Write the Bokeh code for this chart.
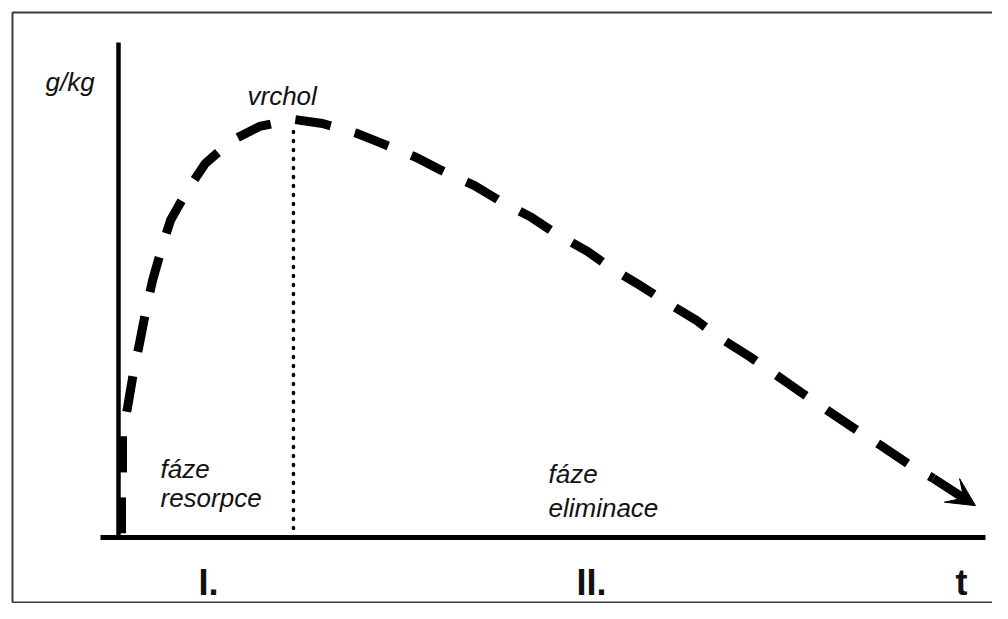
from bokeh.plotting import figure
from bokeh.models import Range1d, Arrow, VeeHead
from bokeh.core.properties import value
from bokeh.embed import file_html
from bokeh.resources import INLINE

# ---- data: blood alcohol curve ----
time_h = [0.035, 0.035, 0.046, 0.046, 0.104, 0.173, 0.242, 0.323, 0.392, 0.507,
          0.600, 0.807, 1.003, 1.303, 1.626, 2.018, 2.353, 2.757, 3.045, 3.437,
          3.725, 4.106, 4.394, 4.764, 5.040, 5.409, 5.675, 6.021, 6.309, 6.667,
          6.932, 7.278, 7.543, 7.889, 8.178, 8.524, 8.789, 9.135, 9.400, 9.885]
conc_gkg = [0.010, 0.093, 0.160, 0.248, 0.310, 0.394, 0.463, 0.549, 0.613, 0.697,
            0.757, 0.833, 0.893, 0.947, 0.981, 0.998, 0.988, 0.964, 0.940, 0.907,
            0.876, 0.840, 0.804, 0.764, 0.726, 0.683, 0.644, 0.601, 0.563, 0.518,
            0.477, 0.432, 0.394, 0.344, 0.303, 0.255, 0.220, 0.172, 0.141, 0.076]
peak_label = "vrchol"
y_label = "g/kg"
x_label = "t"
phase_names = ["I.", "II."]
phase_text_1 = ["fáze", "resorpce"]
phase_text_2 = ["fáze", "eliminace"]

# ---- layout ----
W, H = 992, 603
PX_T, PX_C = 86.7, 419.0          # pixels per unit
OX, OY = 118.0, 537.0              # origin position inside the frame (px)

def tx(px):   # frame px -> time units
    return (px - OX) / PX_T

def cy(py):   # frame px (from top) -> concentration units
    return (OY - py) / PX_C

p = figure(width=W, height=H, output_backend="svg", toolbar_location=None,
           x_axis_type=None, y_axis_type=None, min_border=0,
           x_range=Range1d(tx(0), tx(W)), y_range=Range1d(cy(H), cy(0)))
p.grid.visible = False
p.outline_line_color = None
p.background_fill_color = "white"
p.border_fill_color = "white"

# frame border (scan box)
p.line([tx(12), tx(12), tx(W + 20)], [cy(H - 1), cy(12), cy(12)],
       line_color="#3a3a3a", line_width=2)
p.line([tx(12), tx(W + 20)], [cy(H - 1), cy(H - 1)], line_color="#3a3a3a", line_width=2)

# axes
p.segment(x0=[0], y0=[0], x1=[0], y1=[cy(42)], line_color="black", line_width=4.5)
p.segment(x0=[tx(100)], y0=[0], x1=[tx(985)], y1=[0], line_color="black", line_width=5)

# peak marker (dotted)
ipk = conc_gkg.index(max(conc_gkg))
p.segment(x0=[time_h[ipk]], y0=[0], x1=[time_h[ipk]], y1=[conc_gkg[ipk] - 0.015],
          line_color="black", line_width=3.5, line_dash="1 8", line_cap="round")

# dashed curve
p.line(time_h[:-1], conc_gkg[:-1], line_color="black", line_width=9,
       line_dash="36 25", line_cap="butt", line_join="round")
p.add_layout(Arrow(x_start=time_h[-2], y_start=conc_gkg[-2],
                   x_end=time_h[-1], y_end=conc_gkg[-1],
                   line_color="black", line_width=9,
                   end=VeeHead(size=28, fill_color="black", line_color="black")))

ital = dict(text_font=value("Liberation Sans"), text_font_style="italic",
            text_font_size="26px", text_color="#111111", text_baseline="alphabetic")
bold = dict(text_font=value("Liberation Sans"), text_font_style="bold",
            text_font_size="36px", text_color="#111111", text_baseline="alphabetic",
            text_align="center")

p.text(x=[tx(45)], y=[cy(81)], text=[y_label], **ital)
p.text(x=[tx(247)], y=[cy(95)], text=[peak_label], **ital)
p.text(x=[tx(160), tx(160)], y=[cy(468), cy(497)], text=phase_text_1, **ital)
p.text(x=[tx(548), tx(548)], y=[cy(473), cy(507)], text=phase_text_2, **ital)
p.text(x=[tx(208), tx(591)], y=[cy(582), cy(582)], text=phase_names, **bold)
p.text(x=[tx(961)], y=[cy(582)], text=[x_label], **bold)

open("out.html", "w").write(file_html(p, INLINE))
